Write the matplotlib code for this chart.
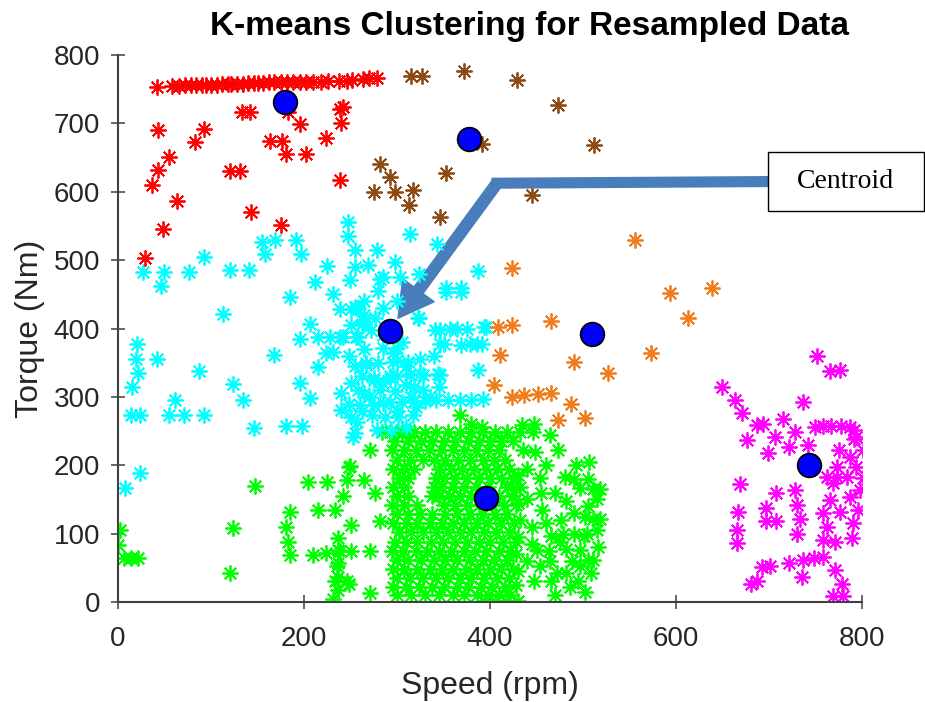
import matplotlib.pyplot as plt
from matplotlib.patches import FancyArrowPatch, Rectangle

plt.rcParams['font.family'] = ['Liberation Sans', 'DejaVu Sans']

# cluster points (speed rpm, torque Nm)
red_pts = [
    (42, 754), (58, 755), (66, 755), (72, 756), (78, 756), (84, 756), (90, 757),
    (95, 757), (100, 757), (106, 757), (112, 758), (118, 758), (122, 758),
    (128, 758), (134, 758), (140, 759), (146, 759), (150, 759), (156, 759),
    (162, 760), (168, 760), (175, 760), (182, 760), (188, 760), (196, 761),
    (202, 761), (210, 761), (218, 761), (226, 762), (238, 762), (246, 762),
    (252, 763), (263, 765), (270, 766), (278, 767),
    (43, 691), (92, 692), (83, 673), (55, 651), (43, 632), (36, 610), (63, 587),
    (48, 545), (29, 503), (133, 717), (142, 717), (120, 631), (131, 631),
    (143, 571), (175, 551), (183, 717), (196, 699), (163, 675), (176, 675),
    (181, 656), (202, 656), (224, 679), (242, 724), (239, 721), (240, 701),
    (239, 618),
]

brown_pts = [
    (315, 770), (327, 770), (372, 777), (429, 763), (473, 727), (512, 669),
    (282, 641), (292, 622), (275, 600), (298, 600), (317, 603), (313, 581),
    (353, 628), (346, 563), (445, 596), (391, 670),
]

orange_pts = [
    (556, 529), (594, 452), (613, 415), (639, 459), (424, 488), (409, 402),
    (424, 405), (466, 411), (411, 361), (573, 364), (490, 351), (527, 335),
    (404, 317), (424, 300), (437, 303), (452, 304), (466, 306), (487, 289),
    (473, 266), (502, 269),
]

cyan_pts = [
    (27, 483), (49, 483), (46, 462), (76, 483), (92, 504), (120, 486), (141, 486),
    (155, 527), (169, 530), (158, 509), (191, 530), (197, 509), (185, 446),
    (113, 421), (212, 468), (225, 491), (231, 450), (247, 556), (247, 535),
    (255, 515), (255, 490), (249, 471), (269, 493), (278, 515), (282, 473),
    (298, 498), (303, 476), (239, 429), (251, 429), (258, 429), (206, 406),
    (196, 385), (215, 388), (228, 388), (239, 388), (258, 388), (262, 407),
    (276, 415), (224, 364), (215, 344), (168, 361), (20, 378), (19, 356),
    (22, 335), (15, 314), (42, 356), (87, 338), (124, 319), (134, 296),
    (196, 321), (206, 298), (14, 273), (24, 273), (61, 295), (55, 273),
    (71, 273), (92, 273), (146, 255), (181, 257), (198, 257), (240, 305),
    (240, 281), (257, 264), (253, 241), (267, 349), (275, 325), (24, 188),
    (8, 166),
    (314, 539), (343, 523), (285, 476), (324, 480), (387, 484), (353, 460),
    (369, 460), (324, 415), (346, 398), (364, 400), (375, 399), (396, 402),
    (350, 378), (378, 378), (391, 378), (296, 364), (300, 354), (387, 339),
    (325, 334), (344, 334), (314, 334), (292, 330), (318, 315),
    (255, 432), (264, 410), (242, 388), (256, 388), (231, 366), (323, 415),
    (285, 371), (300, 371), (267, 346), (296, 351), (312, 351), (275, 327),
    (292, 327), (314, 332), (328, 332), (346, 332), (328, 310), (264, 305),
    (282, 310), (298, 308), (260, 288), (275, 288), (285, 291),
    (292, 292), (305, 293), (318, 294), (330, 294), (342, 295), (355, 295),
    (368, 296), (380, 296), (392, 297), (273, 273), (287, 271), (301, 271),
    (317, 273), (255, 247), (278, 251), (294, 251), (310, 256), (341, 398),
    (357, 400), (393, 402), (346, 378), (369, 376), (386, 378), (353, 454),
    (369, 454), (250, 320), (262, 330), (255, 345), (248, 360), (265, 370),
    (280, 350), (270, 300), (285, 320), (300, 330), (310, 318), (258, 310),
    (248, 290), (262, 280), (250, 270), (300, 280), (315, 300), (320, 285),
    (335, 300), (345, 315), (310, 345), (325, 355), (340, 360), (298, 395),
    (305, 380), (285, 390), (272, 398), (250, 405), (265, 420), (285, 430),
    (300, 440), (280, 455), (265, 440),
]

# dense green block, one row of speeds per torque level
green_rows = [
    (248, [284, 292, 300, 305, 314, 318, 330, 342, 355, 368, 380, 392, 405, 418, 432, 446]),
    (235, [298, 312, 326, 338, 350, 362, 376, 388, 400, 412, 425]),
    (222, [295, 308, 320, 334, 347, 360, 372, 385, 398, 410, 436]),
    (208, [300, 314, 328, 340, 352, 366, 378, 392, 404, 416]),
    (195, [296, 308, 318, 345, 358, 370, 383, 396, 408, 420, 440]),
    (182, [302, 312, 342, 350, 362, 375, 388, 400, 412, 425]),
    (168, [296, 308, 340, 348, 360, 372, 385, 398, 418, 432]),
    (155, [300, 312, 338, 345, 356, 368, 380, 410, 424]),
    (142, [295, 308, 322, 350, 362, 375, 388, 402, 415, 428]),
    (128, [300, 312, 325, 338, 352, 365, 378, 392, 405, 418]),
    (115, [296, 310, 322, 335, 348, 360, 372, 386, 398, 412, 426]),
    (102, [302, 315, 328, 342, 355, 368, 380, 394, 406, 420]),
    (88, [298, 310, 322, 336, 349, 362, 375, 388, 400, 414, 428]),
    (75, [295, 306, 320, 332, 345, 358, 372, 384, 396, 410, 422]),
    (62, [300, 312, 326, 340, 352, 365, 378, 392, 404, 418]),
    (48, [296, 308, 322, 335, 348, 360, 374, 386, 400, 412, 425]),
    (35, [300, 314, 328, 342, 355, 368, 380, 394, 408, 420]),
    (22, [296, 310, 324, 338, 350, 364, 376, 390, 402, 416]),
    (10, [300, 315, 330, 345, 360, 372, 386, 398, 410, 422]),
    (2, [395, 405, 418, 430]),
]

green_pts = [
    (2, 105), (0, 83), (6, 64), (14, 64), (22, 64), (124, 108), (120, 42),
    (147, 170), (204, 176), (225, 176), (248, 198), (246, 178), (264, 178),
    (242, 155), (276, 159), (271, 222), (185, 132), (181, 110), (183, 88),
    (185, 69), (215, 134), (233, 134), (250, 113), (210, 69), (224, 71),
    (239, 74), (251, 74), (237, 93), (235, 52), (246, 30), (233, 30), (231, 5),
    (271, 74), (271, 13), (282, 118), (249, 199), (237, 76), (237, 57),
    (237, 37), (237, 18), (248, 27),
    (368, 273), (380, 261), (391, 256),
    (434, 259), (447, 261), (464, 244), (473, 222), (448, 220), (506, 205),
    (454, 181), (481, 183), (497, 166), (511, 165), (456, 134), (482, 147),
    (490, 130), (502, 125), (511, 122), (466, 96), (479, 100), (490, 100),
    (501, 96), (450, 76), (463, 74), (482, 78), (497, 76), (454, 52), (472, 42),
    (482, 42), (497, 52), (509, 42), (447, 30), (466, 30), (486, 22), (502, 15),
    (511, 61), (516, 81), (504, 100), (515, 105),
    (430, 186), (428, 165), (430, 145), (432, 120), (430, 95), (428, 70),
    (430, 45), (428, 25),
    (440, 150), (445, 110), (440, 60), (460, 200), (470, 160), (476, 120),
    (488, 60), (495, 30), (505, 180), (515, 150), (470, 10), (460, 115),
    (505, 140), (518, 165), (518, 122), (492, 200), (455, 160), (445, 85),
    (475, 88), (490, 180), (465, 60), (505, 62),
]

magenta_pts = [
    (752, 360), (766, 338), (776, 340), (649, 315), (663, 296), (671, 276),
    (737, 293), (687, 259), (694, 261), (715, 267), (676, 237), (706, 242),
    (728, 249), (699, 218), (722, 226), (742, 230), (749, 256), (758, 257),
    (767, 258), (777, 258), (787, 256), (791, 239), (801, 222), (669, 172),
    (708, 159), (728, 164), (730, 142), (733, 122), (697, 137), (697, 118),
    (708, 119), (667, 131), (666, 106), (666, 86), (758, 130), (776, 132),
    (766, 149), (769, 174), (762, 183), (787, 154), (798, 164), (801, 181),
    (796, 135), (790, 115), (789, 93), (758, 91), (771, 88), (762, 110),
    (730, 100), (701, 52), (692, 51), (681, 27), (687, 30), (721, 57),
    (737, 61), (748, 64), (758, 66), (735, 37), (771, 47), (778, 27), (769, 8),
    (780, 8), (775, 222), (787, 212), (794, 198), (773, 198), (773, 183),
    (784, 183), (791, 251), (794, 242),
]

centroids = [(180, 732), (377, 677), (292, 396), (510, 392), (396, 152), (743, 200)]

for y, xs in green_rows:
    for x in xs:
        green_pts.append((x, y))

clusters = [
    (green_pts, '#00ff00'),
    (cyan_pts, '#00ffff'),
    (red_pts, '#ff0000'),
    (brown_pts, '#8b4a14'),
    (orange_pts, '#ef7d1e'),
    (magenta_pts, '#ff00ff'),
]

fig = plt.figure(figsize=(9.25, 7.02), dpi=100)
ax = fig.add_axes([0.1276, 0.1425, 0.8043, 0.779])

for pts, col in clusters:
    xs = [p[0] for p in pts]
    ys = [p[1] for p in pts]
    ax.plot(xs, ys, linestyle='none', marker=(8, 2, 0), markersize=11.5,
            markeredgewidth=1.3, color=col)

ax.plot([c[0] for c in centroids], [c[1] for c in centroids], linestyle='none',
        marker='o', markersize=17, markerfacecolor='#0000ff',
        markeredgecolor='black', markeredgewidth=1.3)

ax.set_xlim(0, 800)
ax.set_ylim(0, 800)
ax.set_xticks([0, 200, 400, 600, 800])
ax.set_yticks(range(0, 801, 100))
for s in ['top', 'right']:
    ax.spines[s].set_visible(False)
for s in ['left', 'bottom']:
    ax.spines[s].set_color('#404040')
    ax.spines[s].set_linewidth(1.5)
ax.tick_params(direction='inout', length=10, width=1.1, colors='#404040',
               labelsize=20, pad=8, labelcolor='#262626')
ax.tick_params(axis='x', pad=12)

ax.set_xlabel('Speed (rpm)', fontsize=23, color='#262626', labelpad=14)
ax.set_ylabel('Torque (Nm)', fontsize=23, color='#262626', labelpad=6)
fig.text(0.572, 0.962, 'K-means Clustering for Resampled Data', fontsize=24,
         fontweight='bold', ha='center', va='center')

# callout arrow pointing at a centroid
arrow_col = '#4a7dbb'
ax.plot([699, 407.5], [615, 612.6], color=arrow_col, linewidth=8,
        solid_capstyle='projecting', clip_on=False)
ax.add_patch(FancyArrowPatch((407.5, 612.6), (301, 415),
                             arrowstyle='simple,head_length=2.5,head_width=2.8,tail_width=0.8',
                             mutation_scale=10, color=arrow_col, shrinkA=0, shrinkB=0,
                             clip_on=False))

fig.patches.append(Rectangle((0.830, 0.699), 0.169, 0.084, transform=fig.transFigure,
                             facecolor='white', edgecolor='black', linewidth=1))
fig.text(0.914, 0.742, 'Centroid', fontsize=20, family=['Liberation Serif', 'DejaVu Serif'],
         ha='center', va='center')

fig.savefig('out.png', dpi=100)
